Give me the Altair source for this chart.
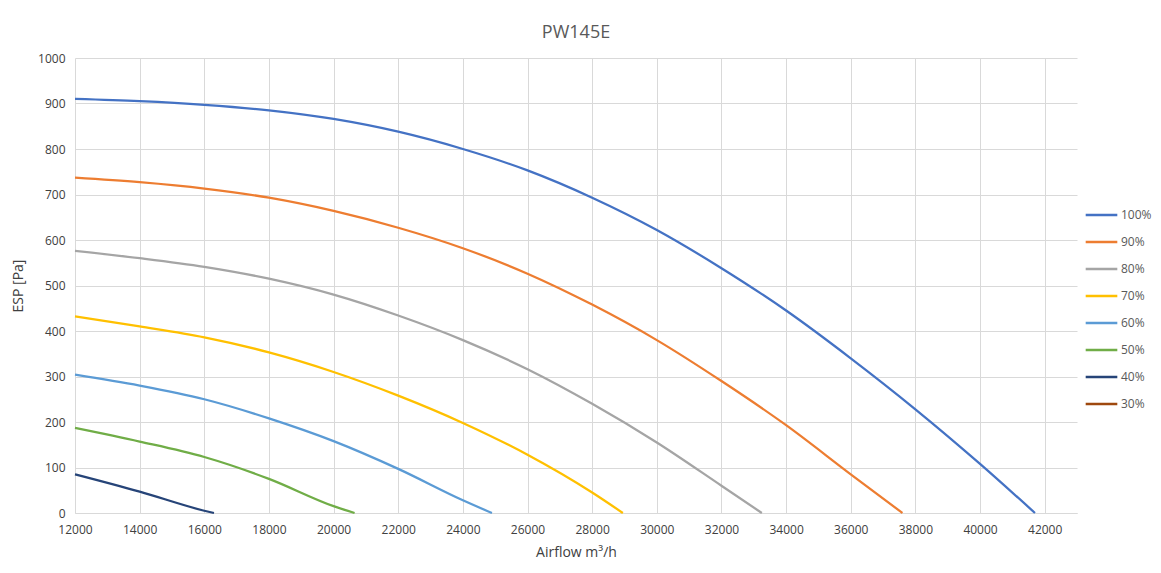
import altair as alt
import pandas as pd

series = ["100%", "90%", "80%", "70%", "60%", "50%", "40%", "30%"]
colors = ["#4472C4", "#ED7D31", "#A5A5A5", "#FFC000", "#5B9BD5", "#70AD47", "#264478", "#9E480E"]

flow_100 = [12000, 14000, 16000, 18000, 20000, 22000, 24000, 26000, 28000, 30000, 32000, 34000, 36000, 38000, 40000, 41700]
esp_100 = [910, 905, 897, 885, 866, 838, 800, 753, 693, 622, 538, 445, 340, 228, 108, 0]

flow_90 = [12000, 14000, 16000, 18000, 20000, 22000, 24000, 26000, 28000, 30000, 32000, 34000, 36000, 37600]
esp_90 = [737, 727, 713, 693, 664, 627, 582, 526, 458, 380, 290, 193, 85, 0]

flow_80 = [12000, 14000, 16000, 18000, 20000, 22000, 24000, 26000, 28000, 30000, 32000, 33250]
esp_80 = [576, 560, 541, 515, 480, 434, 380, 316, 240, 155, 60, 0]

flow_70 = [12000, 14000, 16000, 18000, 20000, 22000, 24000, 26000, 28000, 28950]
esp_70 = [432, 410, 386, 353, 310, 258, 198, 128, 45, 0]

flow_60 = [12000, 14000, 16000, 18000, 20000, 22000, 24000, 24900]
esp_60 = [304, 280, 250, 208, 158, 97, 28, 0]

flow_50 = [12000, 14000, 16000, 18000, 20000, 20650]
esp_50 = [187, 157, 123, 75, 15, 0]

flow_40 = [12000, 14000, 16000, 16300]
esp_40 = [85, 47, 5, 0]

x_ticks = list(range(12000, 42001, 2000))
y_ticks = list(range(0, 1001, 100))

rows = []
for name, xs, ys in [("100%", flow_100, esp_100), ("90%", flow_90, esp_90),
                     ("80%", flow_80, esp_80), ("70%", flow_70, esp_70),
                     ("60%", flow_60, esp_60), ("50%", flow_50, esp_50),
                     ("40%", flow_40, esp_40)]:
    for i, (x, y) in enumerate(zip(xs, ys)):
        rows.append({"speed": name, "airflow": x, "esp": y, "order": i})
df = pd.DataFrame(rows)

FONT = "Open Sans"

chart = alt.Chart(df).mark_line(interpolate="monotone", strokeWidth=2.25).encode(
    x=alt.X("airflow:Q",
            scale=alt.Scale(domain=[12000, 43000], nice=False, zero=False),
            axis=alt.Axis(values=x_ticks, format="d", title="Airflow m³/h",
                          labelFlush=False, ticks=False, labelPadding=11,
                          titlePadding=10, domainColor="#d9d9d9")),
    y=alt.Y("esp:Q",
            scale=alt.Scale(domain=[0, 1000], nice=False),
            axis=alt.Axis(values=y_ticks, format="d", title="ESP [Pa]", ticks=False,
                          domain=False, labelPadding=10, titlePadding=12)),
    color=alt.Color("speed:N",
                    scale=alt.Scale(domain=series, range=colors),
                    legend=alt.Legend(title=None, orient="none", legendX=1009, legendY=150,
                                      symbolType="stroke", symbolSize=1000, symbolStrokeWidth=2.5,
                                      clipHeight=14, rowPadding=13, labelOffset=2,
                                      labelFontSize=12, labelColor="#595959", labelFont=FONT)),
    order="order:Q",
    detail="speed:N",
).properties(
    width=1002, height=455,
    title=alt.Title("PW145E", fontSize=18, font=FONT, fontWeight="normal", color="#595959",
                    anchor="middle", offset=10),
    autosize=alt.AutoSizeParams(type="none"),
    padding={"left": 67, "top": 50, "right": 76, "bottom": 50},
).configure_view(stroke=None).configure_axis(
    gridColor="#d9d9d9", gridWidth=1, labelFont=FONT, labelFontSize=12, labelColor="#404040",
    titleFont=FONT, titleFontSize=14, titleFontWeight="normal", titleColor="#404040",
)

chart.save("out.html", embed_options={"renderer": "svg", "actions": False})
